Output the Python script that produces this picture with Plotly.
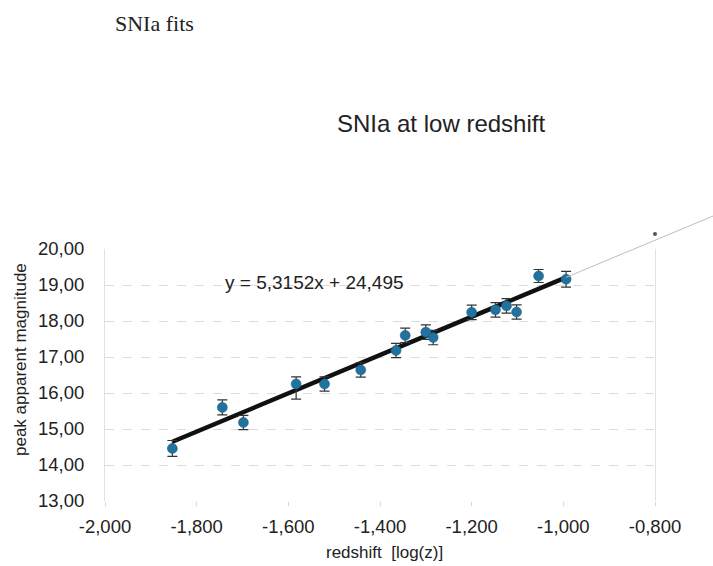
import plotly.graph_objects as go

# ---- data ----
log_z = [-1.853, -1.744, -1.698, -1.583, -1.521, -1.442, -1.365, -1.345,
         -1.300, -1.284, -1.200, -1.148, -1.124, -1.102, -1.054, -0.994]
peak_mag = [14.46, 15.60, 15.18, 16.25, 16.25, 16.64, 17.18, 17.60,
            17.69, 17.54, 18.24, 18.31, 18.42, 18.25, 19.25, 19.16]
err_plus = [0.22, 0.21, 0.20, 0.20, 0.20, 0.20, 0.20, 0.20,
            0.20, 0.20, 0.20, 0.20, 0.20, 0.20, 0.18, 0.22]
err_minus = [0.22, 0.21, 0.20, 0.42, 0.20, 0.20, 0.20, 0.20,
             0.20, 0.20, 0.20, 0.20, 0.20, 0.20, 0.18, 0.22]

fit_slope = 5.3152
fit_intercept = 24.495
extension_end_x = -0.673          # faint continuation of the fit, beyond the plot
stray_dot_x = [-0.800]
stray_dot_y = [20.42]

x_tick_vals = [-2.0, -1.8, -1.6, -1.4, -1.2, -1.0, -0.8]
x_tick_labels = ["-2,000", "-1,800", "-1,600", "-1,400", "-1,200", "-1,000", "-0,800"]
y_tick_vals = [13, 14, 15, 16, 17, 18, 19, 20]
y_tick_labels = ["13,00", "14,00", "15,00", "16,00", "17,00", "18,00", "19,00", "20,00"]

x_range = [-2.0, -0.8]
y_range = [13.0, 20.0]

# ---- layout geometry ----
W, H = 713, 566
x_dom = [105 / W, 655 / W]
y_dom = [(H - 501) / H, (H - 249) / H]

# overlay axes covering the full figure, sharing the same data scale
def full_range(rng, dom):
    span = (rng[1] - rng[0]) / (dom[1] - dom[0])
    lo = rng[0] - dom[0] * span
    return [lo, lo + span]

x2_range = full_range(x_range, x_dom)
y2_range = full_range(y_range, y_dom)

fit_x = [min(log_z), max(log_z)]
fit_y = [fit_slope * v + fit_intercept for v in fit_x]
ext_x = [max(log_z), extension_end_x]
ext_y = [fit_slope * v + fit_intercept for v in ext_x]

FONT = "Liberation Sans, Arial, sans-serif"
TXT = "#222222"

fig = go.Figure()

# faint extension of the trend line (drawn on full-figure overlay axes)
fig.add_trace(go.Scatter(
    x=ext_x, y=ext_y, mode="lines", xaxis="x2", yaxis="y2",
    line=dict(color="#bdbdbd", width=1), hoverinfo="skip", showlegend=False))
fig.add_trace(go.Scatter(
    x=stray_dot_x, y=stray_dot_y, mode="markers", xaxis="x2", yaxis="y2",
    marker=dict(color="#555555", size=4), hoverinfo="skip", showlegend=False))

# linear fit
fig.add_trace(go.Scatter(
    x=fit_x, y=fit_y, mode="lines",
    line=dict(color="#111111", width=4.5), showlegend=False, name="fit"))

# data with error bars
fig.add_trace(go.Scatter(
    x=log_z, y=peak_mag, mode="markers", name="SNIa",
    marker=dict(color="#21729e", size=10, line=dict(color="#1a5f85", width=0.5)),
    error_y=dict(type="data", symmetric=False, array=err_plus, arrayminus=err_minus,
                 color="#333333", thickness=1.2, width=5),
    showlegend=False))

fig.update_layout(
    width=W, height=H,
    margin=dict(l=0, r=0, t=0, b=0),
    paper_bgcolor="white",
    plot_bgcolor="rgba(0,0,0,0)",
    font=dict(family=FONT, color=TXT),
    xaxis=dict(
        domain=x_dom, range=x_range, tickvals=x_tick_vals, ticktext=x_tick_labels,
        showgrid=False, zeroline=False, showline=False,
        ticks="outside", ticklen=4, tickcolor="#d8d8d8",
        tickfont=dict(size=18.5, color=TXT), ticklabelstandoff=5,
        anchor="y", automargin=False),
    yaxis=dict(
        domain=y_dom, range=y_range, tickvals=y_tick_vals, ticktext=y_tick_labels,
        showgrid=True, gridcolor="#dcdcdc", gridwidth=1, griddash="dash",
        zeroline=False, showline=True, mirror=True, linecolor="#e2e2e2", linewidth=1,
        ticks="", tickfont=dict(size=18.5, color=TXT), ticklabelstandoff=16,
        anchor="x", automargin=False),
    xaxis2=dict(domain=[0, 1], range=x2_range, visible=False, anchor="y2"),
    yaxis2=dict(domain=[0, 1], range=y2_range, visible=False, anchor="x2"),
    annotations=[
        dict(text="SNIa fits", xref="paper", yref="paper",
             x=113 / W, y=1 - 24 / H, xanchor="left", yanchor="middle",
             showarrow=False, font=dict(family="Liberation Serif, Times New Roman, serif",
                                        size=22, color=TXT)),
        dict(text="SNIa at low redshift", xref="paper", yref="paper",
             x=441 / W, y=1 - 123 / H, xanchor="center", yanchor="middle",
             showarrow=False, font=dict(family=FONT, size=24, color=TXT)),
        dict(text="y = 5,3152x + 24,495", xref="x", yref="y",
             x=-1.542, y=19.06, xanchor="center", yanchor="middle",
             showarrow=False, font=dict(family=FONT, size=19, color=TXT)),
        # axis titles
        dict(text="redshift\u00a0 [log(z)]", xref="paper", yref="paper",
             x=384 / W, y=1 - 552 / H, xanchor="center", yanchor="middle",
             showarrow=False, font=dict(family=FONT, size=17, color=TXT)),
        dict(text="peak apparent magnitude", xref="paper", yref="paper",
             x=20 / W, y=1 - 360 / H, xanchor="center", yanchor="middle",
             textangle=-90, showarrow=False, font=dict(family=FONT, size=17, color=TXT)),
    ],
)

fig.write_html("out.html", config={"displayModeBar": False},
               post_script="document.body.style.margin='0px';")
